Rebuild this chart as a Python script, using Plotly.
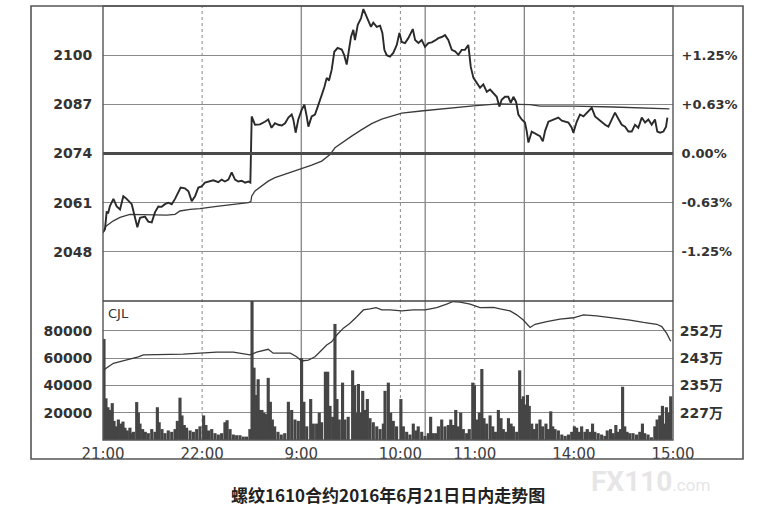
import plotly.graph_objects as go

W, H = 773, 530
PL, PR = 103, 673          # plot area left/right (px)
PT, PM, PB = 6, 301, 440   # price top, panel split, volume bottom (px)

# ---------------- data ----------------
# minutes since 21:00 on the trading-minute axis (night 21-23, 9-10:15, 10:30-11:30, 13:30-15)
price_t = [0, 1.2, 2.2, 3.2, 4.2, 6.3, 8.3, 10.3, 12.3, 14.3, 17.4, 19.4, 20.8, 22.4, 25.4, 27.4,
           29.5, 31.5, 33.5, 35.5, 37.5, 39.5, 41.6, 43.6, 45.6, 47, 49.6, 51.7, 53.7, 55.7, 57.7,
           59.7, 61.7, 63.7, 66.8, 69.8, 71.8, 73.8, 75.9, 77.9, 79.9, 81.9, 83.9, 86, 88, 89.2,
           90, 92, 95, 98, 100, 102, 104.1, 106.1, 108.2, 110.2, 112.2, 114.2, 115.2, 116.6, 118.2,
           120.3, 121.9, 123.3, 124.3, 126.3, 128.3, 130, 132, 134, 135.4, 136.8, 138.4, 140, 142,
           144.5, 146, 147.5, 148.9, 150.1, 151.5, 152.5, 154.2, 156.2, 157.6, 159, 160.6, 162.2,
           163.6, 165.7, 167.7, 169.1, 170.3, 171.7, 173.7, 175.7, 177.8, 179.4, 180.8, 182.8,
           184.8, 187.5, 188.9, 190.9, 192.9, 194.9, 196.9, 199, 201, 203, 205, 207, 209, 211.1,
           213.1, 215.1, 217.1, 219.1, 221.1, 222.6, 224.2, 226.2, 228.2, 230.2, 232.3, 234.3,
           236.3, 238.3, 239.9, 241.3, 243.3, 245.3, 246.8, 248.4, 250, 251.4, 253.4, 255.4, 256.5,
           257.5, 259.5, 261.5, 264.5, 266.2, 267.6, 269.6, 271.6, 273.6, 275.6, 277.7, 279.7,
           281.7, 283.7, 284.7, 286.7, 288.7, 290.8, 292.8, 295.8, 297.8, 299.8, 301.9, 303.9,
           305.9, 307.9, 309.9, 311.9, 314, 316, 318, 320, 322, 324, 326.1, 328.1, 330.1, 332.1,
           334.1, 335.5, 337.2, 339.2, 340.8, 341.6]
price_v = [2053.2, 2054.0, 2058.5, 2058.4, 2060.1, 2062.0, 2060.0, 2059.2, 2062.7, 2062.0, 2060.6,
           2057.4, 2054.5, 2057.0, 2057.3, 2056.0, 2055.8, 2058.5, 2060.0, 2059.9, 2060.6, 2061.0,
           2060.6, 2062.0, 2064.0, 2065.0, 2064.8, 2064.0, 2061.4, 2062.7, 2065.0, 2065.3, 2066.3,
           2066.6, 2066.9, 2066.4, 2067.1, 2066.6, 2067.1, 2069.0, 2067.1, 2066.6, 2066.8, 2066.3,
           2066.6, 2066.3,
           2083.8, 2081.6, 2081.7, 2082.4, 2083.0, 2080.8, 2082.0, 2081.6, 2081.4, 2082.0, 2083.5,
           2084.3, 2083.0, 2079.5, 2083.0, 2085.6, 2086.9, 2083.8, 2081.1, 2083.8, 2084.3, 2086.4,
           2088.8, 2091.6, 2094.0, 2093.3, 2096.1, 2100.9, 2101.9, 2101.5, 2100.0, 2097.5, 2101.5,
           2104.8, 2106.7, 2104.0, 2108.0, 2109.8, 2112.2, 2110.6, 2109.3, 2107.5, 2108.6, 2107.5,
           2107.8, 2105.9, 2101.4, 2100.0, 2099.6, 2100.6, 2102.7, 2105.9, 2103.5, 2103.2, 2104.5,
           2106.9, 2104.0, 2103.2, 2104.0, 2102.2, 2103.2, 2103.4, 2103.9, 2104.5, 2104.8, 2105.3,
           2104.0, 2101.4, 2101.0, 2100.1, 2101.4, 2101.4, 2102.7, 2096.9, 2094.0, 2092.7, 2091.4,
           2092.3, 2090.3, 2090.9, 2090.0, 2089.0, 2086.4, 2088.2, 2089.0, 2089.0, 2087.4, 2089.0,
           2087.7, 2084.3, 2083.0, 2082.2, 2079.8, 2076.9, 2079.8, 2079.4, 2078.6, 2077.2, 2080.0,
           2082.4, 2082.7, 2083.2, 2083.5, 2082.7, 2082.4, 2082.2, 2080.8, 2079.5, 2082.4, 2084.3,
           2083.8, 2084.8, 2086.1, 2083.8, 2083.0, 2082.4, 2081.6, 2081.1, 2083.2, 2084.8, 2083.2,
           2081.6, 2081.1, 2079.8, 2079.8, 2081.6, 2080.8, 2083.5, 2082.2, 2083.0, 2081.6, 2083.0,
           2079.8, 2079.5, 2079.8, 2081.1, 2083.5]

avg_t = [0, 1.8, 6.3, 10.3, 16.3, 28.5, 38.5, 43.6, 46.6, 52.7, 58.7, 68.8, 78.9, 88, 89.5, 90, 92,
         96, 100, 104.1, 110.2, 116.2, 121.3, 126.3, 132.4, 137.4, 140.4, 144.5, 150.5, 156.6,
         162.6, 168.7, 175.7, 180.8, 193.9, 209, 224.2, 239.3, 254.4, 258.5, 264.5, 284.7, 308.9,
         335.2, 342.8]
avg_v = [2053.0, 2054.8, 2056.2, 2057.1, 2057.9, 2057.7, 2057.7, 2057.9, 2058.8, 2059.2, 2059.4,
         2060.0, 2060.6, 2061.0, 2061.3, 2062.7, 2064.1, 2065.4, 2066.7, 2067.6, 2068.5, 2069.3,
         2070.2, 2070.9, 2072.0, 2073.7, 2075.5, 2076.8, 2078.6, 2080.3, 2081.9, 2083.1, 2084.0,
         2084.7, 2085.3, 2086.0, 2086.6, 2087.1, 2087.1, 2086.9, 2086.5, 2086.5, 2086.3, 2086.0,
         2085.8]

# open interest, in 万 (10k contracts)
oi_t = [0.2, 3.2, 6.3, 10.3, 14.3, 18.4, 21.4, 24.4, 38.5, 48.6, 58.7, 68.8, 78.9, 89, 93, 100, 103,
        113.4, 117.2, 120.2, 124.3, 128.3, 132.4, 135.4, 138.4, 141.5, 145.5, 149.5, 153.6, 157.6,
        161.6, 165.3, 168.7, 173.7, 180.8, 187.8, 194.9, 202, 208, 212, 216.1, 222.2, 228.2,
        236.3, 240.3, 246.4, 250.4, 254.4, 258.5, 261.5, 268.6, 276.6, 284.7, 290.8, 298.8,
        308.9, 319, 327.1, 335.2, 338.2, 341.2, 343.6]
oi_v = [240.1, 241.2, 242.2, 242.7, 243.2, 243.7, 244.2, 244.8, 244.8, 245.0, 245.3, 245.6, 245.6,
        244.8, 245.6, 246.5, 245.3, 245.3, 244.2, 242.9, 243.2, 244.2, 246.3, 247.8, 248.8, 250.9,
        253.0, 254.5, 256.5, 258.6, 258.9, 259.3, 258.6, 258.6, 258.3, 258.6, 258.6, 259.3, 260.4,
        261.2, 261.0, 260.4, 259.3, 259.4, 258.9, 258.3, 257.1, 255.5, 253.2, 254.2, 255.0, 255.8,
        256.2, 257.1, 256.8, 256.2, 255.5, 254.8, 254.2, 253.5, 251.4, 249.0]

vol_t = [0.6, 1.8, 3.0, 4.2, 5.6, 6.7, 7.9, 9.3, 10.7, 12.1, 13.3, 14.7, 16.3, 17.4, 18.4, 20.4, 21.4,
         22.4, 24.0, 25.6, 27.4, 29.5, 31.5, 32.9, 34.0, 35.7, 37.5, 39.5, 41.6, 43.6, 45.0, 46.6,
         47.8, 49.2, 50.6, 52.7, 54.7, 56.7, 58.7, 60.9, 62.3, 63.9, 65.8, 67.8, 69.8, 71.8, 73.8,
         75.1, 76.9, 78.9, 80.9, 82.9, 84.9, 86.9, 88.9, 90.2, 91.4, 92.6, 93.9, 95.0, 96.2, 97.4,
         98.6, 100.0, 101.3, 102.5, 103.9, 105.9, 107.9, 110.0, 112.2, 114.2, 116.2, 118.2, 120.2,
         121.6, 123.3, 125.7, 127.3, 129.3, 130.9, 132.3, 134.6, 136.0, 137.4, 139.0, 140.4, 141.6,
         143.0, 145.0, 146.4, 148.4, 151.1, 152.3, 153.6, 154.6, 156.0, 157.2, 158.6, 160.0, 161.6,
         163.6, 165.7, 167.7, 169.7, 170.7, 172.7, 174.1, 175.7, 177.7, 180.3, 181.8, 183.8, 185.8,
         187.8, 189.4, 190.8, 192.9, 194.9, 196.9, 198.3, 199.9, 201.5, 203.0, 205.0, 207.0, 209.0,
         210.5, 212.1, 213.5, 215.1, 216.5, 218.1, 220.1, 221.7, 223.8, 224.8, 226.2, 227.8, 229.3,
         230.6, 232.2, 234.3, 235.9, 237.5, 239.3, 240.9, 242.3, 243.9, 245.4, 247.0, 248.4, 250.4,
         252.2, 253.2, 254.4, 255.6, 256.9, 258.0, 259.5, 261.1, 262.5, 264.5, 266.1, 268.1, 269.6,
         271.0, 272.2, 273.6, 275.6, 277.7, 279.7, 281.7, 283.7, 285.3, 286.7, 288.3, 289.7, 291.7,
         293.1, 294.7, 296.3, 297.7, 299.7, 301.8, 303.8, 305.2, 307.2, 308.8, 310.4, 311.8, 313.2,
         314.5, 315.8, 317.2, 318.8, 320.8, 322.9, 324.9, 326.5, 327.9, 329.9, 331.9, 334.0, 335.4,
         337.0, 338.6, 340.0, 341.0, 342.4, 343.6]
vol_v = [74000, 30500, 24000, 22000, 27000, 14000, 10000, 15000, 12000, 13500, 9000, 7000, 9000,
         5000, 6000, 27800, 20000, 12000, 8000, 6000, 5000, 8000, 6000, 24000, 13000, 8000, 5000,
         7000, 6000, 8000, 14000, 31000, 18000, 11000, 9000, 7000, 6000, 8000, 10000, 18000, 11000,
         7000, 8000, 5000, 4000, 5000, 13000, 14500, 8000, 4000, 3500, 3500, 2500, 2500, 8000,
         140000, 53000, 33000, 44500, 22000, 22000, 20000, 19000, 45500, 28000, 15000, 10000, 6000,
         4000, 5000, 28000, 22000, 15000, 14000, 60000, 28000, 10000, 30000, 12000, 12000, 20000,
         13000, 50000, 50000, 25000, 17000, 85000, 30000, 15000, 42000, 15000, 17000, 51000, 40000,
         20000, 41000, 20000, 36000, 22000, 30000, 16000, 13000, 10000, 8000, 12000, 36000, 42000,
         20000, 14000, 10000, 30000, 10000, 6000, 4000, 12000, 7000, 10000, 6000, 3000, 5000, 17000,
         5000, 5000, 10000, 15000, 10000, 11000, 15000, 11000, 22000, 10000, 20000, 8000, 5000,
         8000, 42000, 40000, 15000, 20000, 52000, 16000, 12000, 18000, 10000, 6000, 22000, 16000,
         8000, 6000, 16000, 12000, 10000, 6000, 51000, 30000, 32000, 26000, 33000, 25000, 12000,
         8000, 12000, 15000, 10000, 12000, 8000, 21000, 10000, 8000, 7000, 4000, 3000, 4000, 6000,
         10000, 9000, 6000, 10000, 6000, 8000, 6000, 12000, 6000, 5000, 4000, 3000, 7000, 8000,
         5000, 11000, 6000, 8000, 39000, 10000, 6000, 5000, 5000, 4000, 6000, 12000, 5000, 4000,
         2000, 10000, 15000, 18000, 25000, 12000, 24000, 20000, 32000]

price_ticks = [2048, 2061, 2074, 2087, 2100]
pct_labels = ["-1.25%", "-0.63%", "0.00%", "+0.63%", "+1.25%"]
vol_ticks = [20000, 40000, 60000, 80000]
oi_ticks = [227.0, 235.4, 243.8, 252.2]
oi_labels = ["227万", "235万", "243万", "252万"]
time_ticks = [0, 60, 120, 180, 225, 285, 345]
time_labels = ["21:00", "22:00", "9:00", "10:00", "11:00", "14:00", "15:00"]
session_marks = [120, 195, 255]      # solid vertical lines
hour_marks = [60, 180, 225, 285]     # dotted vertical lines
prev_close = 2074
title_text = "螺纹1610合约2016年6月21日日内走势图"

PRICE_RANGE = [2035, 2113]
VOL_TOP = 101800
OI_LO, OI_STEP = 218.6, 8.4
OI_RANGE = [OI_LO, OI_LO + OI_STEP * VOL_TOP / 20000]

def fx(px):
    return px / W

def fy(py):
    return 1 - py / H

GRID = "#8a8a8a"
INK = "#333333"

fig = go.Figure()
fig.add_trace(go.Bar(x=vol_t, y=vol_v, width=1.9, xaxis="x2", yaxis="y2",
                     marker=dict(color="#454545", line=dict(width=0)), hoverinfo="skip"))
fig.add_trace(go.Scatter(x=oi_t, y=oi_v, xaxis="x2", yaxis="y4", mode="lines",
                         line=dict(color="#3a3a3a", width=1.3), hoverinfo="skip"))
fig.add_trace(go.Scatter(x=avg_t, y=avg_v, xaxis="x", yaxis="y", mode="lines",
                         line=dict(color="#3a3a3a", width=1.3), hoverinfo="skip"))
fig.add_trace(go.Scatter(x=price_t, y=price_v, xaxis="x", yaxis="y", mode="lines",
                         line=dict(color="#2a2a2a", width=1.9), hoverinfo="skip"))
fig.add_trace(go.Scatter(x=price_t, y=price_v, xaxis="x", yaxis="y3", mode="lines",
                         line=dict(color="rgba(0,0,0,0)", width=0), hoverinfo="skip"))

shapes = []
# vertical gridlines through both panels
for m in session_marks:
    shapes.append(dict(type="line", xref="x", yref="paper", x0=m, x1=m, y0=fy(PB), y1=fy(PT),
                       line=dict(color="#7a7a7a", width=1.2), layer="below"))
for m in hour_marks:
    shapes.append(dict(type="line", xref="x", yref="paper", x0=m, x1=m, y0=fy(PB), y1=fy(PT),
                       line=dict(color="#8a8a8a", width=1, dash="dot"), layer="below"))
# previous close line
shapes.append(dict(type="line", xref="paper", yref="y", x0=fx(PL), x1=fx(PR), y0=prev_close,
                   y1=prev_close, line=dict(color="#4a4a4a", width=3.2), layer="above"))
# plot border and separator
shapes.append(dict(type="rect", xref="paper", yref="paper", x0=fx(PL), x1=fx(PR), y0=fy(PB),
                   y1=fy(PT), line=dict(color="#555555", width=1.4)))
shapes.append(dict(type="line", xref="paper", yref="paper", x0=fx(PL), x1=fx(PR), y0=fy(PM),
                   y1=fy(PM), line=dict(color="#444444", width=1.6)))
# outer frame
shapes.append(dict(type="rect", xref="paper", yref="paper", x0=fx(31), x1=fx(743), y0=fy(459),
                   y1=fy(PT), line=dict(color="#555555", width=1.6)))

tickfont_bold = dict(family="DejaVu Sans", size=14, color=INK, weight="bold")

fig.update_layout(
    width=W, height=H, autosize=False,
    margin=dict(l=0, r=0, t=0, b=0, pad=0),
    paper_bgcolor="white", plot_bgcolor="white",
    showlegend=False,
    shapes=shapes,
    xaxis=dict(domain=[fx(PL), fx(PR)], range=[0, 345], anchor="y", showticklabels=False,
               showgrid=False, zeroline=False, showline=False, ticks="", automargin=False),
    xaxis2=dict(domain=[fx(PL), fx(PR)], range=[0, 345], anchor="y2", showgrid=False,
                zeroline=False, showline=False, tickmode="array", tickvals=time_ticks,
                ticktext=time_labels, ticks="outside", ticklen=0, tickcolor="rgba(0,0,0,0)",
                automargin=False,
                tickfont=dict(family="DejaVu Sans", size=15, color="#3d3d3d")),
    yaxis=dict(domain=[fy(PM), fy(PT)], range=PRICE_RANGE, anchor="x", tickmode="array",
               tickvals=price_ticks, showgrid=True, gridcolor=GRID, gridwidth=1, zeroline=False,
               showline=False, ticks="outside", ticklen=7, tickcolor="rgba(0,0,0,0)",
               automargin=False, tickfont=tickfont_bold),
    yaxis3=dict(overlaying="y", side="right", anchor="x", range=PRICE_RANGE, tickmode="array",
                tickvals=price_ticks, ticktext=pct_labels, showgrid=False, zeroline=False,
                showline=False, ticks="outside", ticklen=5, tickcolor="rgba(0,0,0,0)",
                automargin=False,
                tickfont=dict(family="DejaVu Sans", size=13, color=INK, weight="bold")),
    yaxis2=dict(domain=[fy(PB), fy(PM)], range=[0, VOL_TOP], anchor="x2", tickmode="array",
                tickvals=vol_ticks, tickformat="d", showgrid=True, gridcolor=GRID, gridwidth=1,
                zeroline=False, showline=False, ticks="outside", ticklen=7,
                tickcolor="rgba(0,0,0,0)", automargin=False, tickfont=tickfont_bold),
    yaxis4=dict(overlaying="y2", side="right", anchor="x2", range=OI_RANGE, tickmode="array",
                tickvals=oi_ticks, ticktext=oi_labels, showgrid=False, zeroline=False,
                showline=False, ticks="outside", ticklen=3, tickcolor="rgba(0,0,0,0)",
                automargin=False,
                tickfont=dict(family="DejaVu Sans, Noto Sans CJK SC", size=14, color=INK,
                              weight="bold")),
    annotations=[
        dict(text="CJL", xref="paper", yref="paper", x=fx(PL + 3), y=fy(PM + 3),
             xanchor="left", yanchor="top", showarrow=False,
             font=dict(family="DejaVu Sans", size=13, color="#333")),
        dict(text=title_text, xref="paper", yref="paper", x=fx(388), y=fy(494),
             xanchor="center", yanchor="middle", showarrow=False,
             font=dict(family="Noto Sans CJK SC", size=17, color="#222", weight="bold")),
        dict(text="<b>FX110</b><span style='font-size:17px'>.com</span>", xref="paper",
             yref="paper", x=fx(650), y=fy(481), xanchor="center", yanchor="middle",
             showarrow=False, font=dict(family="Roboto", size=28, color="#e6e6e6")),
    ],
)

fig.write_html("out.html", config={"displayModeBar": False},
               post_script="document.body.style.margin='0';document.body.style.overflow='hidden';")
